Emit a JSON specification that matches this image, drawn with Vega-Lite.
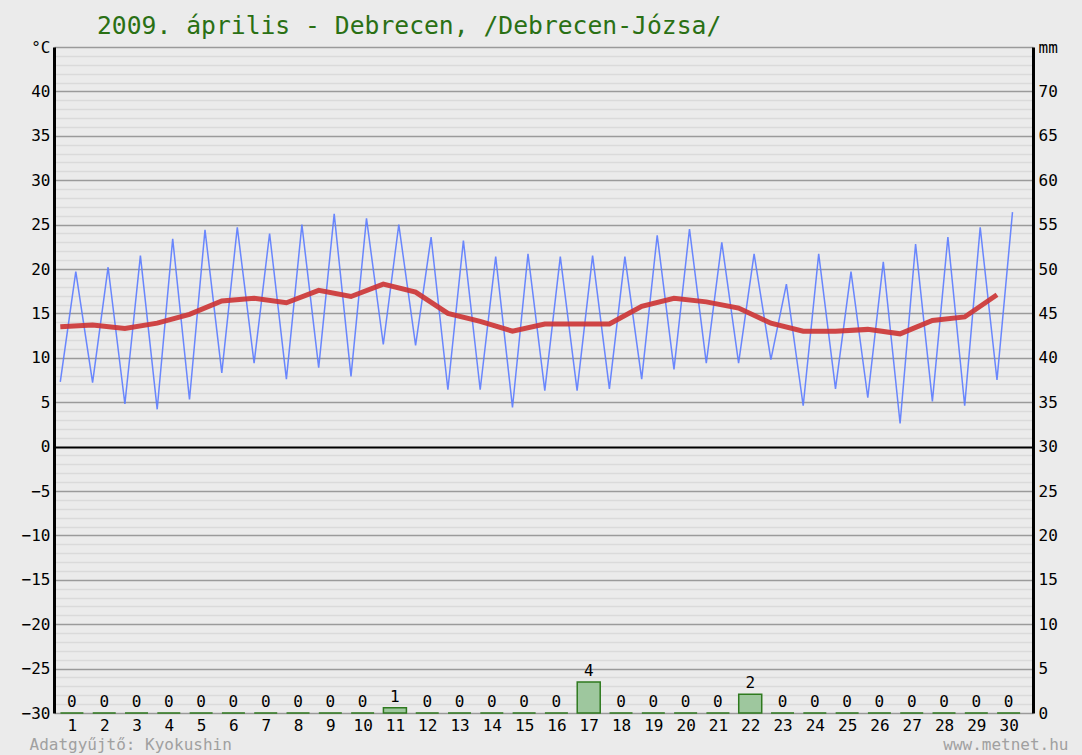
{
  "$schema": "https://vega.github.io/schema/vega-lite/v6.json",
  "width": 979,
  "height": 666,
  "autosize": {"type": "none"},
  "padding": {"left": 54, "top": 47, "right": 49, "bottom": 42},
  "background": "#ebebeb",
  "title": {
    "text": "2009. április - Debrecen, /Debrecen-Józsa/",
    "anchor": "start",
    "frame": "group",
    "dx": 43,
    "offset": -20,
    "baseline": "alphabetic",
    "font": "DejaVu Sans Mono",
    "fontSize": 24.7,
    "fontWeight": "normal",
    "color": "#2a7014"
  },
  "config": {
    "view": {"stroke": null},
    "font": "DejaVu Sans Mono",
    "axis": {
      "labelFont": "DejaVu Sans Mono",
      "labelFontSize": 16,
      "labelColor": "#000000",
      "ticks": false,
      "titleFont": "DejaVu Sans Mono"
    },
    "axisX": {"labelOverlap": false, "labelBound": false, "labelFlush": false, "tickCount": 40}
  },
  "datasets": {
    "temp": [
      {"t": 0.64, "temp": 7.3}, {"t": 1.12, "temp": 19.7},
      {"t": 1.64, "temp": 7.2}, {"t": 2.12, "temp": 20.2},
      {"t": 2.64, "temp": 4.8}, {"t": 3.12, "temp": 21.5},
      {"t": 3.64, "temp": 4.2}, {"t": 4.12, "temp": 23.4},
      {"t": 4.64, "temp": 5.3}, {"t": 5.12, "temp": 24.4},
      {"t": 5.64, "temp": 8.3}, {"t": 6.12, "temp": 24.7},
      {"t": 6.64, "temp": 9.4}, {"t": 7.12, "temp": 24.0},
      {"t": 7.64, "temp": 7.6}, {"t": 8.12, "temp": 25.0},
      {"t": 8.64, "temp": 8.9}, {"t": 9.12, "temp": 26.2},
      {"t": 9.64, "temp": 7.9}, {"t": 10.12, "temp": 25.7},
      {"t": 10.64, "temp": 11.5}, {"t": 11.12, "temp": 25.0},
      {"t": 11.64, "temp": 11.4}, {"t": 12.12, "temp": 23.6},
      {"t": 12.64, "temp": 6.4}, {"t": 13.12, "temp": 23.2},
      {"t": 13.64, "temp": 6.4}, {"t": 14.12, "temp": 21.4},
      {"t": 14.64, "temp": 4.4}, {"t": 15.12, "temp": 21.7},
      {"t": 15.64, "temp": 6.3}, {"t": 16.12, "temp": 21.4},
      {"t": 16.64, "temp": 6.3}, {"t": 17.12, "temp": 21.5},
      {"t": 17.64, "temp": 6.5}, {"t": 18.12, "temp": 21.4},
      {"t": 18.64, "temp": 7.6}, {"t": 19.12, "temp": 23.8},
      {"t": 19.64, "temp": 8.7}, {"t": 20.12, "temp": 24.5},
      {"t": 20.64, "temp": 9.4}, {"t": 21.12, "temp": 23.0},
      {"t": 21.64, "temp": 9.4}, {"t": 22.12, "temp": 21.7},
      {"t": 22.64, "temp": 9.8}, {"t": 23.12, "temp": 18.3},
      {"t": 23.64, "temp": 4.6}, {"t": 24.12, "temp": 21.7},
      {"t": 24.64, "temp": 6.5}, {"t": 25.12, "temp": 19.7},
      {"t": 25.64, "temp": 5.5}, {"t": 26.12, "temp": 20.8},
      {"t": 26.64, "temp": 2.6}, {"t": 27.12, "temp": 22.8},
      {"t": 27.64, "temp": 5.1}, {"t": 28.12, "temp": 23.6},
      {"t": 28.64, "temp": 4.6}, {"t": 29.12, "temp": 24.7},
      {"t": 29.64, "temp": 7.5}, {"t": 30.12, "temp": 26.4}
    ],
    "mean": [
      {"t": 0.64, "mean": 13.5}, {"t": 1.64, "mean": 13.7}, {"t": 2.64, "mean": 13.3},
      {"t": 3.64, "mean": 13.9}, {"t": 4.64, "mean": 14.9}, {"t": 5.64, "mean": 16.4},
      {"t": 6.64, "mean": 16.7}, {"t": 7.64, "mean": 16.2}, {"t": 8.64, "mean": 17.6},
      {"t": 9.64, "mean": 16.9}, {"t": 10.64, "mean": 18.3}, {"t": 11.64, "mean": 17.4},
      {"t": 12.64, "mean": 15.0}, {"t": 13.64, "mean": 14.1}, {"t": 14.64, "mean": 13.0},
      {"t": 15.64, "mean": 13.8}, {"t": 16.64, "mean": 13.8}, {"t": 17.64, "mean": 13.8},
      {"t": 18.64, "mean": 15.8}, {"t": 19.64, "mean": 16.7}, {"t": 20.64, "mean": 16.3},
      {"t": 21.64, "mean": 15.6}, {"t": 22.64, "mean": 13.9}, {"t": 23.64, "mean": 13.0},
      {"t": 24.64, "mean": 13.0}, {"t": 25.64, "mean": 13.2}, {"t": 26.64, "mean": 12.7},
      {"t": 27.64, "mean": 14.2}, {"t": 28.64, "mean": 14.6}, {"t": 29.64, "mean": 17.1}
    ],
    "precip": [
      {"day": 1, "mm": 0}, {"day": 2, "mm": 0}, {"day": 3, "mm": 0}, {"day": 4, "mm": 0},
      {"day": 5, "mm": 0}, {"day": 6, "mm": 0}, {"day": 7, "mm": 0}, {"day": 8, "mm": 0},
      {"day": 9, "mm": 0}, {"day": 10, "mm": 0}, {"day": 11, "mm": 0.6}, {"day": 12, "mm": 0},
      {"day": 13, "mm": 0}, {"day": 14, "mm": 0}, {"day": 15, "mm": 0}, {"day": 16, "mm": 0},
      {"day": 17, "mm": 3.5}, {"day": 18, "mm": 0}, {"day": 19, "mm": 0}, {"day": 20, "mm": 0},
      {"day": 21, "mm": 0}, {"day": 22, "mm": 2.1}, {"day": 23, "mm": 0}, {"day": 24, "mm": 0},
      {"day": 25, "mm": 0}, {"day": 26, "mm": 0}, {"day": 27, "mm": 0}, {"day": 28, "mm": 0},
      {"day": 29, "mm": 0}, {"day": 30, "mm": 0}
    ]
  },
  "layer": [
    {
      "layer": [
        {
          "data": {"name": "temp"},
          "mark": {"type": "line", "color": "#5b7bff", "strokeWidth": 1.5, "opacity": 0.9},
          "encoding": {
            "x": {
              "field": "t", "type": "quantitative",
              "scale": {"domain": [0.6, 30.6], "nice": false, "zero": false},
              "axis": {
                "values": [1,2,3,4,5,6,7,8,9,10,11,12,13,14,15,16,17,18,19,20,21,22,23,24,25,26,27,28,29,30],
                "tickCount": 40,
                "format": "d", "domain": false, "ticks": false, "grid": false,
                "labelPadding": 4, "labelOverlap": false,
                "title": "Adatgyűjtő: Kyokushin",
                "titleAnchor": "start", "titleAlign": "left",
                "titleX": -25, "titleY": 31, "titleBaseline": "middle",
                "titleColor": "#a0a0a0", "titleFontSize": 16, "titleFontWeight": "normal"
              }
            },
            "y": {
              "field": "temp", "type": "quantitative",
              "scale": {"domain": [-30, 45], "nice": false, "zero": false},
              "axis": {
                "orient": "left",
                "values": [-30,-25,-20,-15,-10,-5,0,5,10,15,20,25,30,35,40,45],
                "tickCount": 20,
                "labelExpr": "datum.value == 45 ? '°C' : datum.label",
                "grid": false, "domainColor": "#000000", "domainWidth": 3,
                "labelPadding": 4, "labelOverlap": false, "title": null
              }
            }
          }
        },
        {
          "data": {"name": "mean"},
          "mark": {"type": "line", "color": "#cc3333", "strokeWidth": 5, "opacity": 0.9},
          "encoding": {
            "x": {"field": "t", "type": "quantitative"},
            "y": {"field": "mean", "type": "quantitative"}
          }
        }
      ]
    },
    {
      "data": {"name": "precip"},
      "encoding": {
        "x": {
          "field": "day", "type": "quantitative",
          "axis": {
            "values": [1,2,3,4,5,6,7,8,9,10,11,12,13,14,15,16,17,18,19,20,21,22,23,24,25,26,27,28,29,30],
            "tickCount": 40,
            "format": "d", "domain": false, "ticks": false, "grid": false,
            "labelPadding": 4, "labelOverlap": false,
            "title": "Adatgyűjtő: Kyokushin",
            "titleAnchor": "start", "titleAlign": "left",
            "titleX": -25, "titleY": 31, "titleBaseline": "middle",
            "titleColor": "#a0a0a0", "titleFontSize": 16, "titleFontWeight": "normal"
          }
        },
        "y": {
          "field": "mm", "type": "quantitative",
          "scale": {"domain": [0, 75], "nice": false, "zero": true},
          "axis": {
            "orient": "right",
            "values": [0,1,2,3,4,5,6,7,8,9,10,11,12,13,14,15,16,17,18,19,20,21,22,23,24,25,26,27,28,29,30,31,32,33,34,35,36,37,38,39,40,41,42,43,44,45,46,47,48,49,50,51,52,53,54,55,56,57,58,59,60,61,62,63,64,65,66,67,68,69,70,71,72,73,74,75],
            "tickCount": 100,
            "labelExpr": "datum.value == 75 ? 'mm' : (datum.value % 5 == 0 ? datum.label : '')",
            "labelOverlap": false,
            "grid": true,
            "gridColor": {"condition": [{"test": "datum.value == 30", "value": "#000000"}, {"test": "datum.value % 5 == 0", "value": "#9a9a9a"}], "value": "#dadada"},
            "gridWidth": {"condition": {"test": "datum.value == 30", "value": 2}, "value": 1.5},
            "domainColor": "#000000", "domainWidth": 3,
            "labelPadding": 5,
            "title": "www.metnet.hu",
            "titleAngle": 0, "titleX": 35, "titleY": 697,
            "titleAlign": "right", "titleBaseline": "middle",
            "titleColor": "#a0a0a0", "titleFontSize": 16, "titleFontWeight": "normal"
          }
        }
      },
      "layer": [
        {
          "mark": {"type": "bar", "width": 23, "fill": "#9ec79e", "stroke": "#2f7a1f", "strokeWidth": 1.5}
        },
        {
          "mark": {"type": "text", "baseline": "bottom", "dy": -3, "fontSize": 16, "color": "#000000", "font": "DejaVu Sans Mono"},
          "encoding": {"text": {"field": "mm", "type": "quantitative", "format": ".0f"}}
        }
      ]
    }
  ],
  "resolve": {"scale": {"y": "independent"}}
}
